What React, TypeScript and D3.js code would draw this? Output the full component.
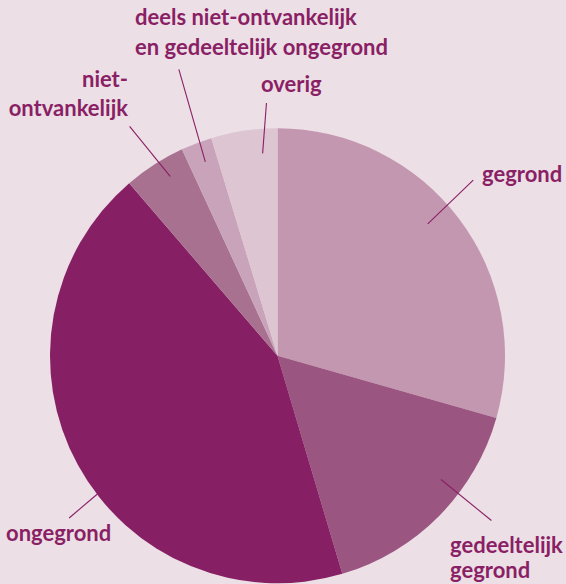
import React from "react";
import * as d3 from "d3";

const categories = [
  "gegrond",
  "gedeeltelijk gegrond",
  "ongegrond",
  "niet-ontvankelijk",
  "deels niet-ontvankelijk en gedeeltelijk ongegrond",
  "overig",
];
const values = [29.4, 16.0, 43.3, 4.4, 2.2, 4.7];
const colors = ["#c497b0", "#9a5580", "#861f63", "#a87190", "#c9a3ba", "#ddc5d1"];
const labelLines = [
  ["gegrond"],
  ["gedeeltelijk", "gegrond"],
  ["ongegrond"],
  ["niet-", "ontvankelijk"],
  ["deels niet-ontvankelijk", "en gedeeltelijk ongegrond"],
  ["overig"],
];

// layout (pixel positions of label text and leader lines, polar for leaders)
const W = 566, H = 584;
const cx = 277.5, cy = 355.8, R = 227.5;
const labelLayout = [
  { x: 482, y: 182, anchor: "start", lh: 29 },
  { x: 450, y: 553, anchor: "start", lh: 25 },
  { x: 6, y: 541, anchor: "start", lh: 29 },
  { x: 128, y: 87, anchor: "end", lh: 28.5 },
  { x: 135, y: 25, anchor: "start", lh: 29.5 },
  { x: 261, y: 92, anchor: "start", lh: 29 },
];
// leader: [angleDeg inner, rInner, angleDeg outer, rOuter]
const leaders = [
  [48.7, 200, 48.1, 263],
  [127.1, 205, 127.6, 270],
  [232.5, 227, 232.1, 264],
  [329.1, 209, 327.2, 273],
  [339.6, 207, 341, 303],
  [355.8, 203, 357.5, 253],
];

const textColor = "#8a1f65";

function polar(aDeg: number, r: number): [number, number] {
  const a = (aDeg * Math.PI) / 180;
  return [cx + r * Math.sin(a), cy - r * Math.cos(a)];
}

export default function App() {
  React.useEffect(() => {
    document.body.style.margin = "0";
    document.body.style.background = "#ecdfe6";
  }, []);
  const pie = d3.pie<number>().sort(null).value((d) => d);
  const arcs = pie(values);
  const arc = d3.arc<d3.PieArcDatum<number>>().innerRadius(0).outerRadius(R);
  return (
    <svg width={W} height={H} style={{ display: "block", background: "#ecdfe6" }}>
      <rect width={W} height={H} fill="#ecdfe6" />
      <g transform={`translate(${cx},${cy})`}>
        {arcs.map((a, i) => (
          <path key={categories[i]} d={arc(a) || ""} fill={colors[i]} />
        ))}
      </g>
      {leaders.map((l, i) => {
        const [x1, y1] = polar(l[0], l[1]);
        const [x2, y2] = polar(l[2], l[3]);
        return <line key={i} x1={x1} y1={y1} x2={x2} y2={y2} stroke={textColor} strokeWidth={1.1} />;
      })}
      {labelLines.map((lines, i) => {
        const L = labelLayout[i];
        return (
          <text
            key={i}
            x={L.x}
            y={L.y}
            textAnchor={L.anchor as any}
            fill={textColor}
            fontFamily="Lato, 'Open Sans', sans-serif"
            fontWeight={700}
            fontSize={22}
          >
            {lines.map((t, j) => (
              <tspan key={j} x={L.x} y={L.y + j * L.lh}>
                {t}
              </tspan>
            ))}
          </text>
        );
      })}
    </svg>
  );
}
